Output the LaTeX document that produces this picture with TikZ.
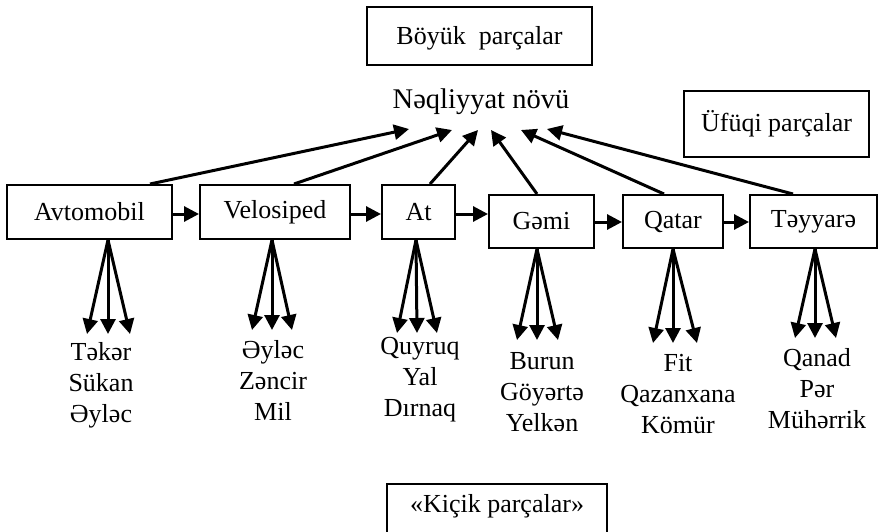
\documentclass[tikz,border=0pt]{standalone}
\usepackage{fontspec}
\setmainfont{Liberation Serif}
\usetikzlibrary{arrows.meta}
\begin{document}
\begin{tikzpicture}[x=1pt,y=-1pt,
  every node/.style={font=\fontsize{26}{31}\selectfont, inner sep=0pt},
  box/.style={draw, line width=2pt, rectangle},
  link/.style={line width=3pt, -{Triangle[length=15pt,width=15pt]}},
  parts/.style={align=center}]
\useasboundingbox (0,0) rectangle (881,532);

% headings
\node[box, minimum width=225, minimum height=58, text height=20pt, text depth=2pt] (big) at (479.5,36) {Böyük\ \ parçalar\hspace{16pt}};
\node[font=\fontsize{28.5}{32}\selectfont] (kind) at (481,102) {Nəqliyyat növü};
\node[box, minimum width=185, minimum height=66] (horiz) at (776.5,124) {Üfüqi parçalar};
\node[box, minimum width=220, anchor=north, text height=28pt, text depth=34pt] (small) at (497,483) {«Kiçik parçalar»};

% vehicles
\node[box, minimum width=165, minimum height=54] (av) at (89.5,212) {Avtomobil};
\node[box, minimum width=150, minimum height=54] (ve) at (275,212) {Velosiped};
\node[box, minimum width=73,  minimum height=54] (at) at (418.5,212) {At};
\node[box, minimum width=105, minimum height=53] (ge) at (541.5,221.5) {Gəmi};
\node[box, minimum width=100, minimum height=53] (qa) at (673,221.5) {Qatar};
\node[box, minimum width=127, minimum height=53] (ty) at (813.5,221.5) {Təyyarə};

% horizontal chain
\draw[link] (av.east |- 0,214) -- (ve.west |- 0,214);
\draw[link] (ve.east |- 0,214) -- (at.west |- 0,214);
\draw[link] (at.east |- 0,214) -- (ge.west |- 0,214);
\draw[link] (ge.east |- 0,222) -- (qa.west |- 0,222);
\draw[link] (qa.east |- 0,222) -- (ty.west |- 0,222);

% links up to the vehicle type
\coordinate (k1) at (409,129);
\coordinate (k2) at (452,130);
\coordinate (k3) at (478,130);
\coordinate (k4) at (491,130);
\coordinate (k5) at (521,130);
\coordinate (k6) at (547,129);
\draw[link] (av.north -| 150,0) -- (k1);
\draw[link] (ve.north -| 294,0) -- (k2);
\draw[link] (at.north -| 430,0) -- (k3);
\draw[link] (ge.north -| 537,0) -- (k4);
\draw[link] (qa.north -| 664,0) -- (k5);
\draw[link] (ty.north -| 793,0) -- (k6);

% part lists
\node[parts] (pav) at (101,385) {Təkər\\Sükan\\Əyləc};
\node[parts] (pve) at (273,380) {Əyləc\\Zəncir\\Mil};
\node[parts] (pat) at (420,380) {Quyruq\\Yal\\Dırnaq};
\node[parts] (pge) at (542,392) {Burun\\Göyərtə\\Yelkən};
\node[parts] (pqa) at (678,394) {Fit\\Qazanxana\\Kömür};
\node[parts] (pty) at (817,389) {Qanad\\Pər\\Mühərrik};

% fans of arrows down to the parts
\foreach \b/\o/\l/\m/\r/\t in {av/108/87/108/130/334, ve/272/252/272/292/330,
    at/416/397/417/437/333, ge/537/517/537/558/340,
    qa/673/653/673/697/343, ty/815/795/815/836/338}{
  \coordinate (\b-l) at (\l,\t);
  \coordinate (\b-m) at (\m,\t);
  \coordinate (\b-r) at (\r,\t);
  \draw[link] (\b.south -| \o,0) -- (\b-l);
  \draw[link] (\b.south -| \o,0) -- (\b-m);
  \draw[link] (\b.south -| \o,0) -- (\b-r);
}
\end{tikzpicture}
\end{document}
